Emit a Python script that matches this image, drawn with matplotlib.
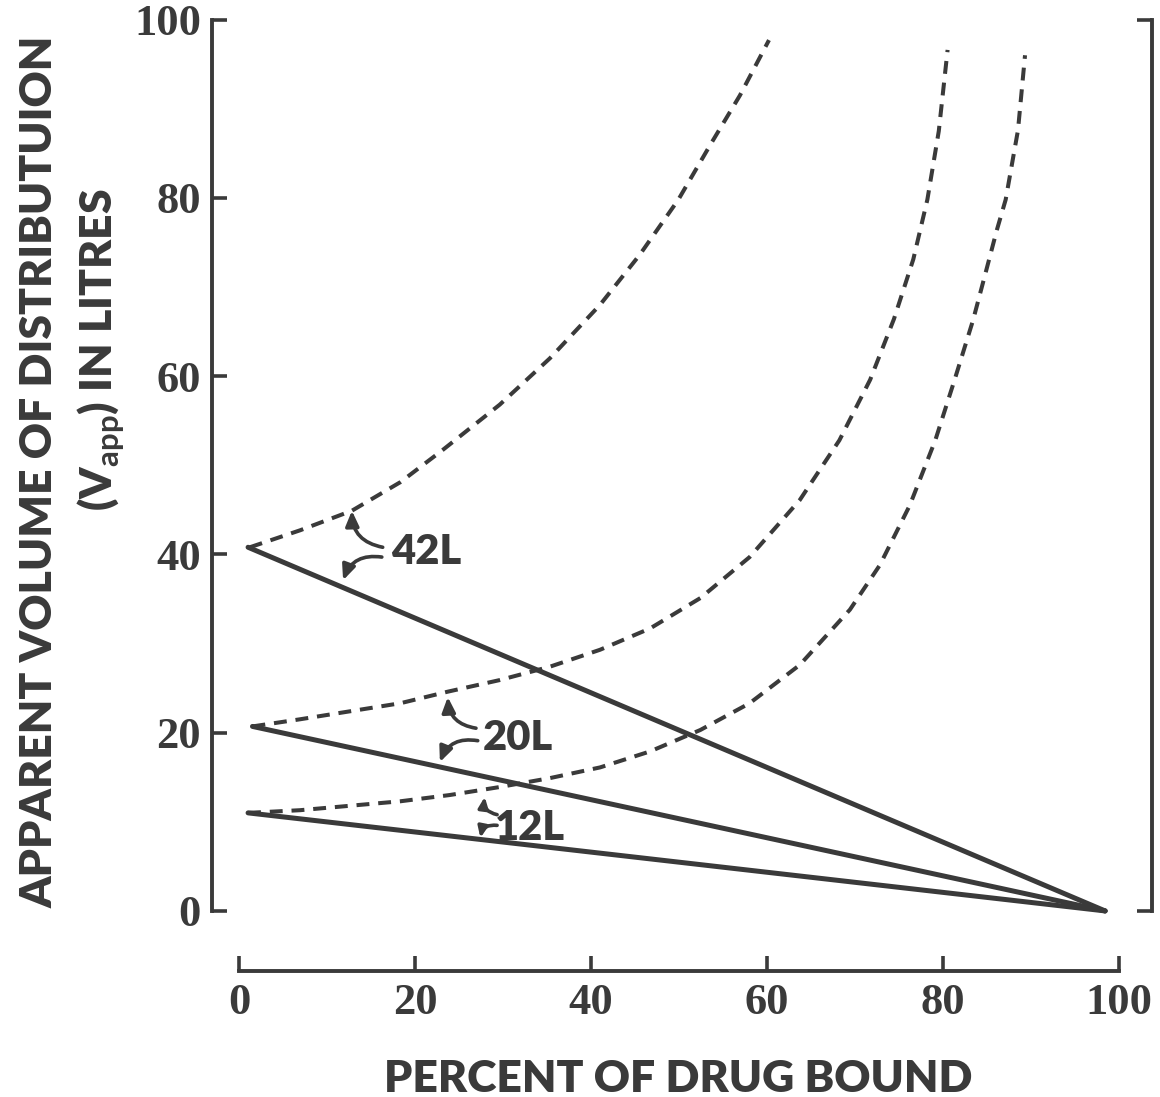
import matplotlib
matplotlib.use("Agg")
import matplotlib.pyplot as plt

plt.rcParams['mathtext.fontset'] = 'custom'
plt.rcParams['mathtext.rm'] = 'Lato'
plt.rcParams['mathtext.bf'] = 'Lato:bold'

INK = '#3a3a3a'

# Axis ticks
x_ticks = [0, 20, 40, 60, 80, 100]
y_ticks = [0, 20, 40, 60, 80, 100]

# Vapp when only plasma binding changes (solid lines)
plasma_42_x = [1.0, 98.4]
plasma_42_y = [40.8, 0.0]
plasma_20_x = [1.5, 98.4]
plasma_20_y = [20.7, 0.0]
plasma_12_x = [1.0, 98.4]
plasma_12_y = [11.0, 0.0]

# Vapp when only tissue binding changes (dashed curves)
tissue_42_x = [1.2, 6.9, 12.8, 18.3, 23.1, 29.6, 35.3, 41.0, 45.5, 49.9, 53.5, 56.9, 60.2]
tissue_42_y = [40.8, 42.7, 44.9, 48.1, 51.7, 56.8, 62.0, 68.0, 73.6, 79.8, 85.9, 91.5, 97.7]

tissue_20_x = [1.5, 6.9, 12.6, 18.3, 23.7, 29.6, 35.3, 41.0, 46.7, 52.4, 58.0, 63.7, 68.2, 71.7, 74.4, 76.6, 78.2, 79.5, 80.5]
tissue_20_y = [20.7, 21.5, 22.4, 23.3, 24.6, 25.9, 27.4, 29.3, 31.7, 35.1, 39.7, 46.1, 52.8, 59.6, 66.4, 73.1, 79.8, 87.5, 96.6]

tissue_12_x = [1.0, 6.9, 12.6, 18.3, 23.9, 29.6, 35.3, 41.0, 46.7, 52.4, 58.0, 63.7, 69.4, 72.8, 76.2, 79.1, 81.3, 83.4, 84.9, 86.1, 87.1, 88.5, 89.3]
tissue_12_y = [11.0, 11.3, 11.8, 12.3, 13.0, 13.9, 14.9, 16.1, 17.9, 20.3, 23.3, 27.6, 33.8, 38.8, 45.5, 52.8, 59.6, 66.3, 71.9, 76.4, 79.8, 87.6, 96.0]

volume_labels = ['42L', '20L', '12L']

fig = plt.figure(figsize=(11.6, 10.97), dpi=100)
W, H = 1160, 1097
ax = fig.add_axes([212 / W, (H - 971) / H, 940 / W, (971 - 19.6) / H])
ax.set_xlim(-3.10, 103.73)
ax.set_ylim(-6.74, 100)

for x, y in [(plasma_42_x, plasma_42_y), (plasma_20_x, plasma_20_y), (plasma_12_x, plasma_12_y)]:
    ax.plot(x, y, color=INK, lw=3.6, solid_capstyle='round', clip_on=False)

for x, y in [(tissue_42_x, tissue_42_y), (tissue_20_x, tissue_20_y), (tissue_12_x, tissue_12_y)]:
    ax.plot(x, y, color=INK, lw=2.9, linestyle=(0, (3.2, 2.2)), clip_on=False)

# Spines as open brackets
ax.spines['top'].set_visible(False)
ax.spines['right'].set_visible(False)
for side in ['left', 'bottom']:
    ax.spines[side].set_bounds(0, 100)
    ax.spines[side].set_linewidth(2.8)
    ax.spines[side].set_color(INK)

ax.set_xticks(x_ticks)
ax.set_yticks(y_ticks)
ax.tick_params(direction='in', length=11, width=2.6, color=INK, labelcolor=INK)
ax.tick_params(axis='x', pad=9)
ax.tick_params(axis='y', pad=8)
for lab in ax.get_xticklabels() + ax.get_yticklabels():
    lab.set_fontfamily('Liberation Serif')
    lab.set_fontweight('bold')
    lab.set_fontsize(32)

ax2 = ax.twinx()
ax2.set_ylim(ax.get_ylim())
ax2.set_yticks([0, 100])
ax2.tick_params(direction='in', length=11, width=2.6, color=INK, labelright=False)
for side in ['left', 'top', 'bottom']:
    ax2.spines[side].set_visible(False)
ax2.spines['right'].set_bounds(0, 100)
ax2.spines['right'].set_linewidth(2.8)
ax2.spines['right'].set_color(INK)

# Volume labels with curved pointers
label_font = dict(family='Lato', weight='heavy', size=30, color=INK)
label_pos = [(17.2, 40.3), (27.7, 19.4), (29.1, 9.3)]
arrows = [
    [((16.3, 40.8), (12.8, 44.9), -0.4), ((16.2, 39.7), (11.8, 37.1), 0.4)],
    [((26.9, 20.5), (23.7, 24.0), -0.4), ((27.1, 19.1), (22.8, 16.7), 0.4)],
    [((29.3, 10.8), (27.9, 12.8), -0.45), ((29.3, 9.6), (27.4, 8.2), 0.45)],
]
head_sizes = [1.0, 1.0, 0.7]
for text, (tx, ty), pair, hs in zip(volume_labels, label_pos, arrows, head_sizes):
    ax.text(tx, ty, text, ha='left', va='center', **label_font)
    for tail, tip, rad in pair:
        ax.annotate('', xy=tip, xytext=tail,
                    arrowprops=dict(arrowstyle='-|>,head_length=0.5,head_width=0.22',
                                    color=INK, lw=2.6, mutation_scale=18 * hs,
                                    shrinkA=0, shrinkB=0,
                                    connectionstyle=f'arc3,rad={rad}'))

axis_font = dict(family='Lato', weight='heavy', size=32, color=INK)
fig.text(678 / W, 1 - 1079 / H, 'PERCENT OF DRUG BOUND', ha='center', va='center', **axis_font)
fig.text(40 / W, 1 - 472 / H, 'APPARENT VOLUME OF DISTRIBUTUION', rotation=90,
         ha='center', va='center', **axis_font)
fig.text(101 / W, 1 - 350 / H, r'(V$_{\mathbf{app}}$) IN LITRES', rotation=90,
         ha='center', va='center', **axis_font)

fig.savefig('out.png', dpi=100, facecolor='white')
